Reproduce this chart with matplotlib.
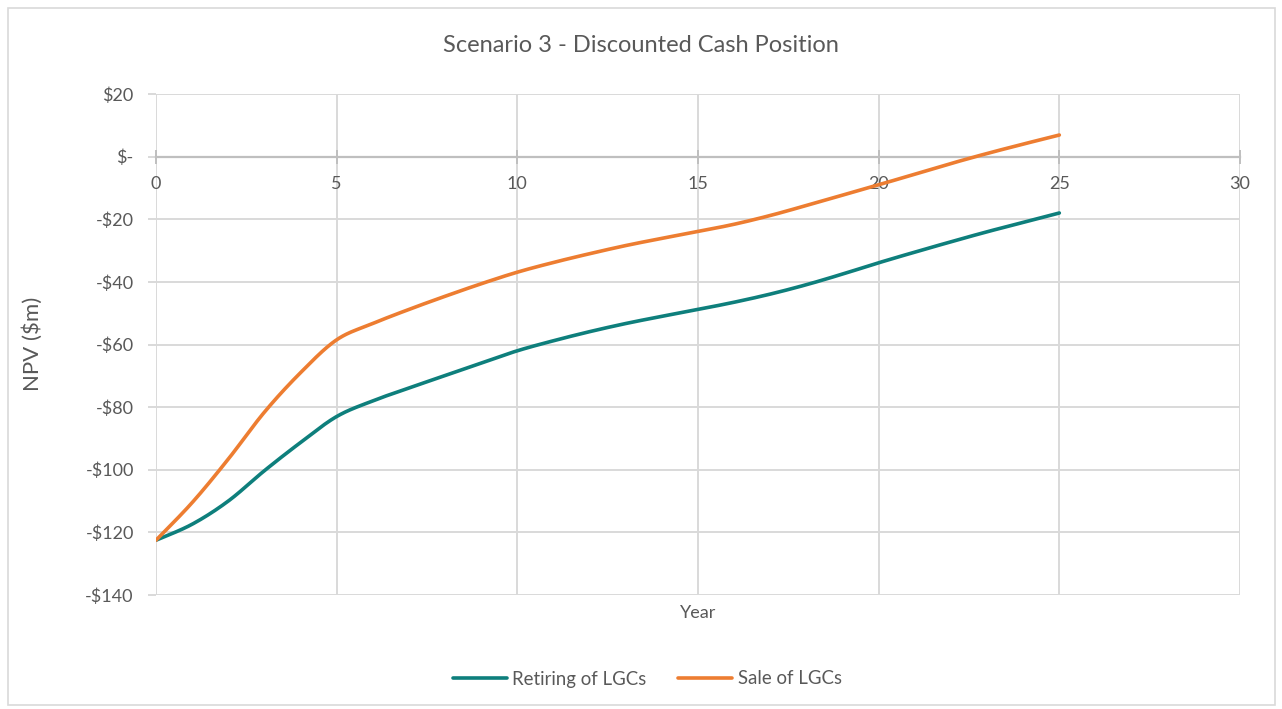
import numpy as np
import matplotlib.pyplot as plt
from matplotlib.patches import Rectangle

plt.rcParams['font.family'] = ['Lato', 'DejaVu Sans']

years = list(range(0, 26))
retiring = [-122.5, -117.4, -110.0, -100.3, -91.3, -83.0, -78.0, -73.9, -69.9, -65.9,
            -62.0, -58.8, -55.9, -53.3, -51.0, -48.8, -46.5, -43.9, -40.9, -37.5,
            -33.9, -30.5, -27.2, -24.0, -21.0, -18.0]
sale = [-122.5, -110.5, -96.6, -81.6, -69.0, -58.5, -53.3, -48.8, -44.6, -40.6,
        -36.9, -33.8, -31.0, -28.4, -26.1, -23.9, -21.6, -18.8, -15.6, -12.3,
        -9.0, -5.6, -2.2, 1.0, 4.0, 6.9]

y_ticks = [20, 0, -20, -40, -60, -80, -100, -120, -140]
x_ticks = [0, 5, 10, 15, 20, 25, 30]

TEAL = '#0e7f7c'
ORANGE = '#ed7d31'
TEXT = '#595959'
GRID = '#d9d9d9'


def smooth(x, y, n=30):
    # bezier smoothing through every point, control points from neighbours
    x = np.asarray(x, float)
    y = np.asarray(y, float)
    xs, ys = [], []
    for i in range(len(x) - 1):
        x0, y0 = (x[i - 1], y[i - 1]) if i > 0 else (x[i], y[i])
        x3, y3 = (x[i + 2], y[i + 2]) if i + 2 < len(x) else (x[i + 1], y[i + 1])
        p1 = (x[i], y[i])
        p2 = (x[i + 1], y[i + 1])
        c1 = (p1[0] + (p2[0] - x0) / 6, p1[1] + (p2[1] - y0) / 6)
        c2 = (p2[0] - (x3 - p1[0]) / 6, p2[1] - (y3 - p1[1]) / 6)
        t = np.linspace(0, 1, n, endpoint=False)
        b = [(1 - t) ** 3, 3 * (1 - t) ** 2 * t, 3 * (1 - t) * t ** 2, t ** 3]
        xs.append(b[0] * p1[0] + b[1] * c1[0] + b[2] * c2[0] + b[3] * p2[0])
        ys.append(b[0] * p1[1] + b[1] * c1[1] + b[2] * c2[1] + b[3] * p2[1])
    xs.append([x[-1]])
    ys.append([y[-1]])
    return np.concatenate(xs), np.concatenate(ys)


def money(v):
    if v == 0:
        return '$-'
    return f'-${abs(v):.0f}' if v < 0 else f'${v:.0f}'


fig = plt.figure(figsize=(12.82, 7.09), dpi=100)
fig.patches.append(Rectangle((8 / 1282, 4 / 709), 1267 / 1282, 697 / 709,
                             transform=fig.transFigure, fill=False,
                             edgecolor='#d9d9d9', linewidth=1.2))
ax = fig.add_axes([156 / 1282, 1 - 595 / 709, 1084 / 1282, 501 / 709])

ax.set_xlim(0, 30)
ax.set_ylim(-140, 20)
ax.set_xticks(x_ticks)
ax.set_yticks(y_ticks)
ax.set_yticklabels([money(v) for v in y_ticks])

for v in y_ticks:
    if v != 0:
        ax.axhline(v, color=GRID, lw=1.4, zorder=0)
for v in x_ticks:
    ax.axvline(v, color=GRID, lw=1.4, zorder=0)

for s in ['top', 'right', 'left']:
    ax.spines[s].set_visible(False)
ax.spines['bottom'].set_position(('data', 0))
ax.spines['bottom'].set_color('#bfbfbf')
ax.spines['bottom'].set_linewidth(1.6)

ax.tick_params(axis='x', direction='inout', length=10, width=1.4, color='#bfbfbf',
               labelsize=13, labelcolor=TEXT, pad=9)
ax.tick_params(axis='y', direction='out', length=6, width=1.4, color=GRID,
               labelsize=13, labelcolor=TEXT, pad=10)

xs, ys = smooth(years, retiring)
ax.plot(xs, ys, color=TEAL, lw=2.6, solid_capstyle='round', label='Retiring of LGCs', zorder=3)
xs, ys = smooth(years, sale)
ax.plot(xs, ys, color=ORANGE, lw=2.6, solid_capstyle='round', label='Sale of LGCs', zorder=3)

fig.text(0.5, 1 - 45 / 709, 'Scenario 3 - Discounted Cash Position', ha='center', va='center',
         fontsize=17, color=TEXT)
fig.text(33 / 1282, 1 - 344 / 709, 'NPV ($m)', rotation=90, ha='center', va='center',
         fontsize=16, color=TEXT)
fig.text(698 / 1282, 1 - 613 / 709, 'Year', ha='center', va='center', fontsize=13, color=TEXT)

leg = fig.legend(loc='center', bbox_to_anchor=(0.505, 1 - 679 / 709), ncol=2, frameon=False,
                 fontsize=13.4, handlelength=2.9, columnspacing=1.7, handletextpad=0.3)
for t in leg.get_texts():
    t.set_color(TEXT)

fig.savefig('out.png', dpi=100)
